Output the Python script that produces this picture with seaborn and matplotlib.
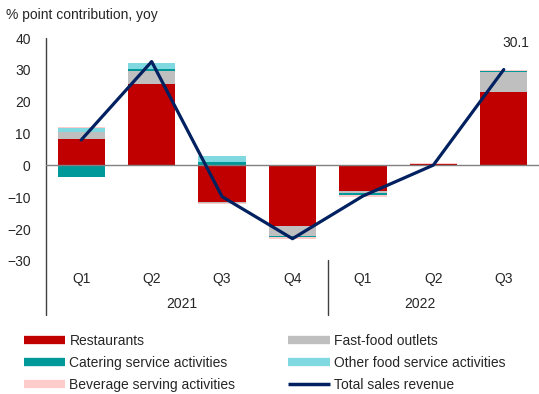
import numpy as np
import matplotlib
matplotlib.use('Agg')
import matplotlib.pyplot as plt
import seaborn as sns
from matplotlib.lines import Line2D

# data (percentage point contributions, yoy)
quarters = ['Q1', 'Q2', 'Q3', 'Q4', 'Q1', 'Q2', 'Q3']
years = ['2021', '2022']
restaurants = [8.4, 25.5, -11.6, -19.0, -8.0, 0.5, 23.0]
fast_food = [2.1, 4.2, -0.1, -3.2, -0.8, 0.0, 6.3]
catering = [-3.5, 0.5, 1.1, -0.2, -0.4, 0.0, 0.3]
other_food = [1.3, 1.8, 1.8, -0.1, -0.1, 0.1, 0.1]
beverage = [0.2, 0.3, -0.4, -0.5, -0.6, 0.1, 0.2]
total = [8.0, 32.6, -9.8, -23.0, -9.6, 0.1, 30.1]

series = [
    ('Restaurants', restaurants, '#C00000'),
    ('Fast-food outlets', fast_food, '#BFBFBF'),
    ('Catering service activities', catering, '#009999'),
    ('Other food service activities', other_food, '#80D8E0'),
    ('Beverage serving activities', beverage, '#FFCCCC'),
]
navy = '#002060'

sns.set_style('white')
plt.rcParams['font.family'] = ['Liberation Sans', 'DejaVu Sans']
plt.rcParams['font.size'] = 10

fig = plt.figure(figsize=(5.39, 3.94), dpi=100)
ax = fig.add_axes([46 / 539, 1 - 261 / 394, 493 / 539, 223 / 394])

x = np.arange(len(quarters))
pos_base = np.zeros(len(x))
neg_base = np.zeros(len(x))
for name, vals, col in series:
    v = np.array(vals)
    base = np.where(v >= 0, pos_base, neg_base)
    ax.bar(x, v, bottom=base, width=0.67, color=col, edgecolor='none', zorder=2)
    pos_base = pos_base + np.where(v >= 0, v, 0)
    neg_base = neg_base + np.where(v < 0, v, 0)

ax.axhline(0, color='#808080', lw=1, zorder=2.5)
sns.lineplot(x=x, y=total, ax=ax, color=navy, lw=2.3, zorder=3)
ax.annotate(f'{total[-1]:.1f}', (x[-1], total[-1]), xytext=(9, 14),
            textcoords='offset points', ha='center', va='bottom', fontsize=10)

ax.set_xlim(-0.5, len(x) - 0.5)
ax.set_ylim(-30, 40)
ax.set_yticks(range(-30, 41, 10))
ax.tick_params(axis='y', length=0, pad=11, labelsize=10)
ax.set_xticks([])
for s in ax.spines.values():
    s.set_visible(False)

# axis line and category labels below the plot
ax.plot([-0.5, -0.5], [40, -47], color='#404040', lw=1, clip_on=False)
ax.plot([3.5, 3.5], [-29.7, -47], color='#404040', lw=1, clip_on=False)
for xi, q in zip(x, quarters):
    ax.text(xi, -35.8, q, ha='center', va='center', fontsize=10)
ax.text(1.43, -43.6, years[0], ha='center', va='center', fontsize=10)
ax.text(4.81, -43.6, years[1], ha='center', va='center', fontsize=10)

fig.text(6 / 539, 1 - 15 / 394, '% point contribution, yoy', ha='left', va='center', fontsize=10)

handles = [Line2D([], [], color=c, lw=6, solid_capstyle='butt') for _, _, c in series]
handles.append(Line2D([], [], color=navy, lw=2.5, solid_capstyle='butt'))
labels = [s[0] for s in series] + ['Total sales revenue']
order = [0, 2, 4, 1, 3, 5]
fig.legend([handles[i] for i in order], [labels[i] for i in order], ncol=2,
           loc='upper left', bbox_to_anchor=(18 / 539, 1 - 328 / 394), frameon=False,
           handlelength=3.0, handletextpad=0.3, columnspacing=3.8, labelspacing=0.58,
           borderaxespad=0, fontsize=10)

fig.savefig('out.png', dpi=100)
